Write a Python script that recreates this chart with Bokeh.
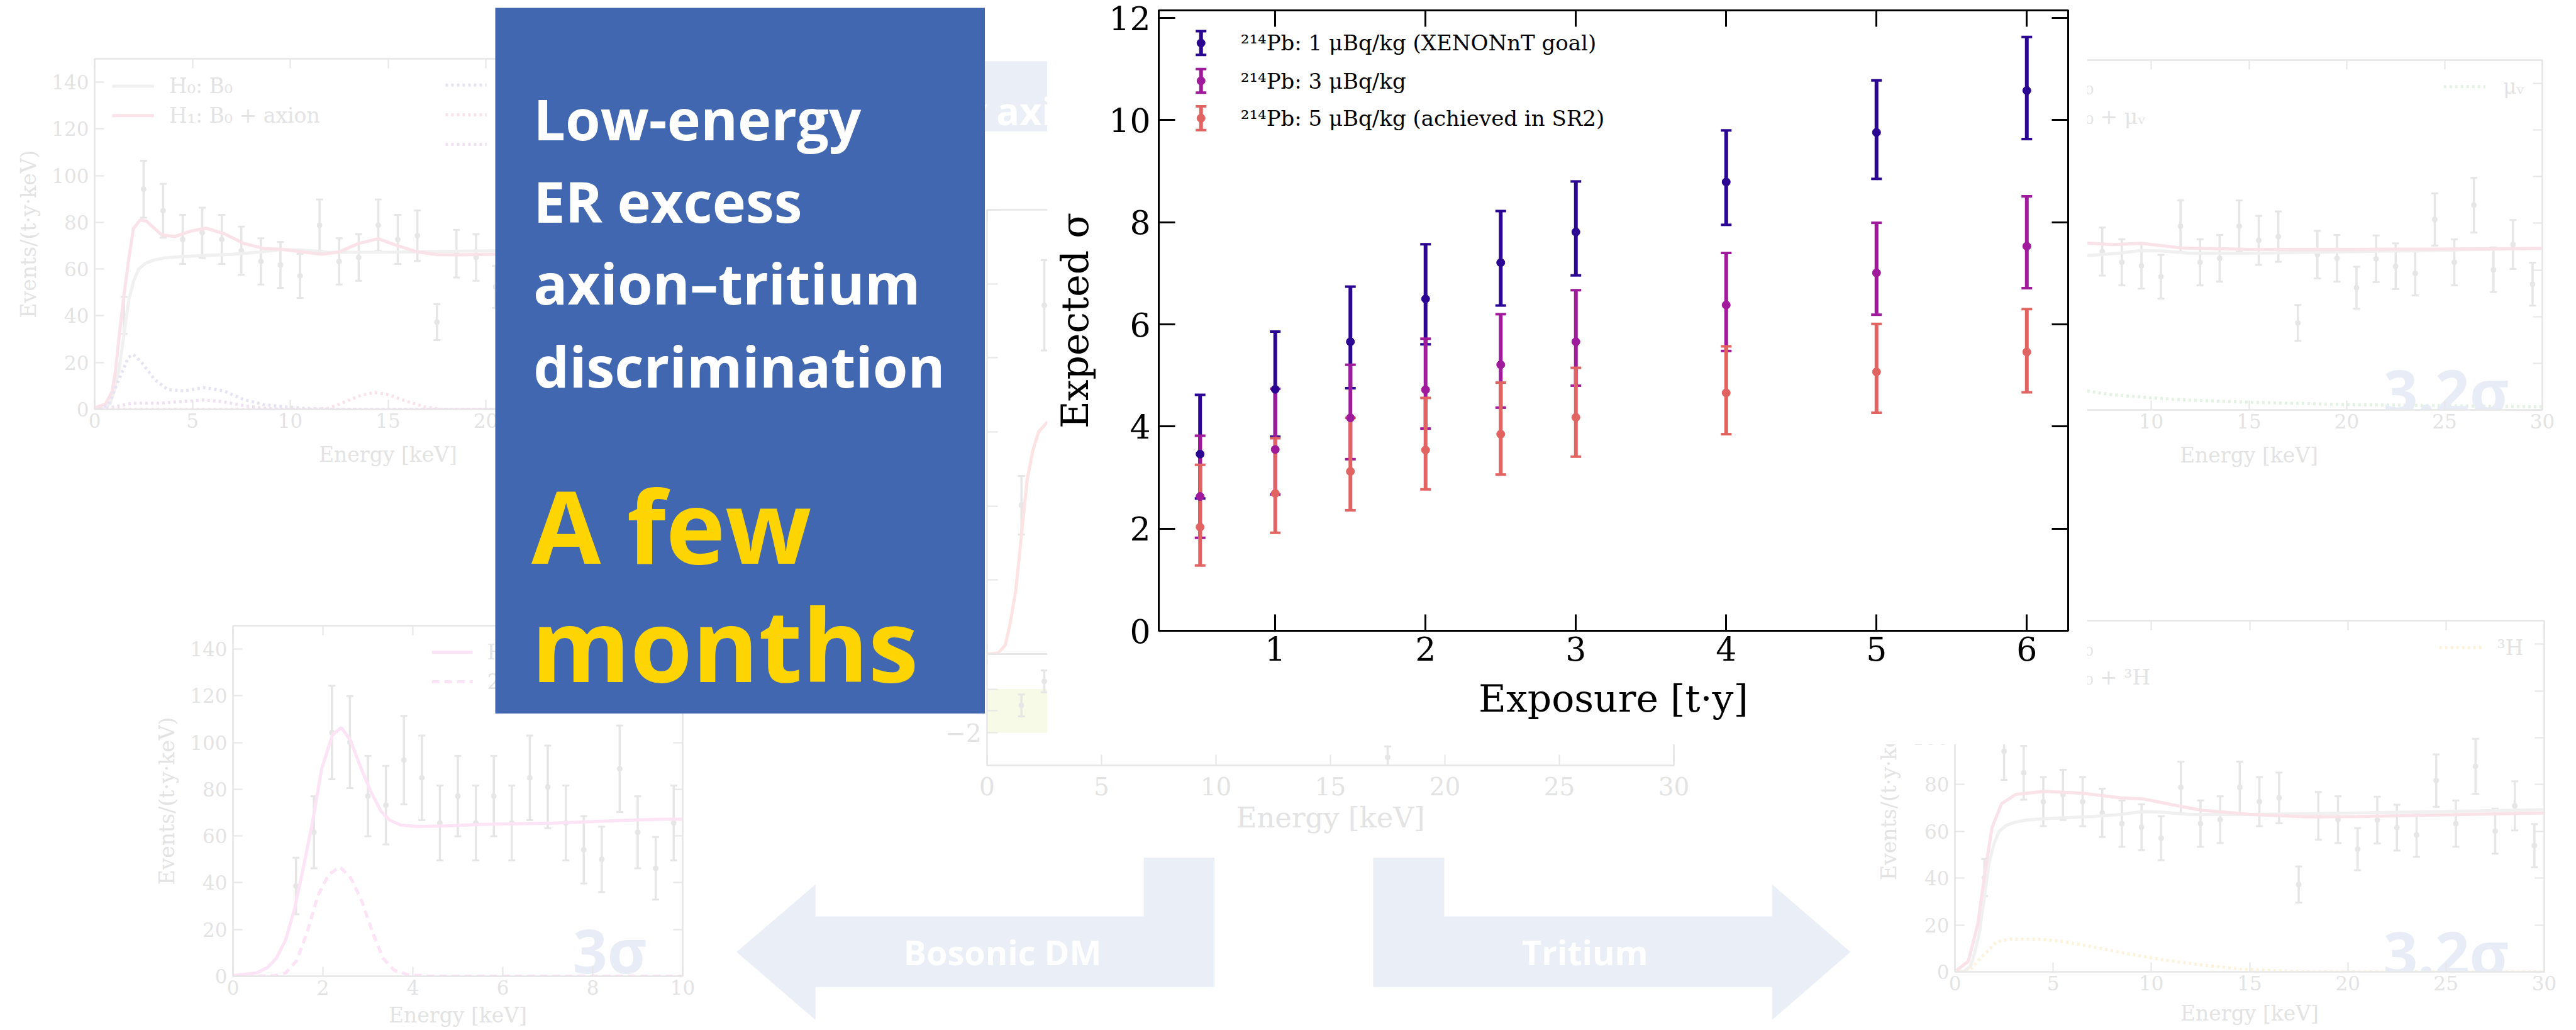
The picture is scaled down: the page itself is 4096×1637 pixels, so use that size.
import numpy as np
from bokeh.plotting import figure
from bokeh.models import Range1d, FixedTicker, LinearAxis, Column, Div
from bokeh.core.properties import value
from bokeh.embed import file_html
from bokeh.resources import INLINE

# ---------------------------------------------------------------- page size
W, H = 4096, 1637
S = W / 4998.0          # slide units -> page pixels


def px(v):
    return v * S


# ---------------------------------------------------------------- main chart data
exposure = [0.5, 1, 1.5, 2, 2.5, 3, 4, 5, 6]

sig_1 = [3.46, 4.73, 5.66, 6.50, 7.21, 7.81, 8.79, 9.76, 10.58]
sig_1_lo = [2.59, 3.80, 4.75, 5.61, 6.37, 6.96, 7.95, 8.85, 9.63]
sig_1_hi = [4.62, 5.86, 6.74, 7.57, 8.22, 8.80, 9.80, 10.78, 11.63]

sig_3 = [2.63, 3.55, 4.17, 4.72, 5.21, 5.66, 6.38, 7.01, 7.53]
sig_3_lo = [1.82, 2.67, 3.36, 3.96, 4.37, 4.80, 5.48, 6.19, 6.71]
sig_3_hi = [3.82, 4.74, 5.21, 5.72, 6.20, 6.67, 7.40, 7.99, 8.51]

sig_5 = [2.03, 2.69, 3.12, 3.54, 3.85, 4.18, 4.66, 5.07, 5.46]
sig_5_lo = [1.28, 1.92, 2.36, 2.77, 3.06, 3.41, 3.85, 4.27, 4.67]
sig_5_hi = [3.25, 3.77, 4.17, 4.56, 4.86, 5.15, 5.57, 6.01, 6.30]

series_labels = [
    "²¹⁴Pb: 1 μBq/kg (XENONnT goal)",
    "²¹⁴Pb: 3 μBq/kg",
    "²¹⁴Pb: 5 μBq/kg (achieved in SR2)",
]
series_colors = ["#2a0692", "#a01b9b", "#e16462"]

x_ticks_main = [1, 2, 3, 4, 5, 6]
y_ticks_main = [0, 2, 4, 6, 8, 10, 12]

# ---------------------------------------------------------------- spectrum data (1 keV bins)
spec_x = [1.5, 2.5, 3.5, 4.5, 5.5, 6.5, 7.5, 8.5, 9.5, 10.5, 11.5, 12.5, 13.5, 14.5,
          15.5, 16.5, 17.5, 18.5, 19.5, 20.5, 21.5, 22.5, 23.5, 24.5, 25.5, 26.5,
          27.5, 28.5, 29.5]
spec_y = [40.2, 94.2, 85.0, 72.7, 75.6, 72.7, 67.9, 63.3, 61.8, 57.1, 78.8, 63.3, 65.0,
          78.8, 72.7, 74.3, 37.3, 66.6, 65.0, 52.4, 64.8, 61.6, 58.5, 81.7, 63.3, 87.8,
          60.1, 70.9, 53.9]
spec_err = [7.9, 12.2, 11.5, 10.5, 10.7, 10.5, 10.3, 9.9, 9.8, 9.4, 11.0, 9.9, 10.0,
            11.0, 10.5, 10.8, 7.7, 10.2, 10.0, 9.0, 10.0, 9.8, 9.4, 11.2, 9.9, 11.7,
            9.6, 10.5, 9.2]
spec_resid = [0.5, 2.7, 1.8, 0.7, 0.9, 0.6, 0.1, -0.4, -0.7, -1.2, 1.0, -0.4, -0.2,
              1.1, 0.5, 0.6, -4.25, -0.1, -0.3, -1.7, -0.3, -0.7, -1.0, 1.2, -0.5,
              1.7, -0.9, 0.2, -1.7]
resid_band = 2.0

# background model B0
b0_x = [0, 0.5, 0.8, 1.0, 1.25, 1.5, 1.75, 2.0, 2.25, 2.6, 3.0, 3.6, 4.5, 5.5, 7, 8.5,
        9.5, 10.5, 12, 15, 20, 25, 30]
b0_y = [0, 0.3, 2.5, 8, 17, 32, 47, 55, 60, 62.5, 63.8, 64.8, 65.4, 65.8, 66.3, 67.3,
        68.4, 68.2, 67.2, 67.2, 67.8, 68.5, 69.3]

# B0 + solar axion and its components
ax_x = [0, 0.55, 0.89, 1.06, 1.26, 1.48, 1.73, 1.98, 2.32, 2.66, 3.42, 4.09, 4.93, 5.69,
        6.61, 7.62, 8.63, 9.63, 10.64, 11.65, 12.49, 13.5, 14.51, 15.52, 16.52, 17.53,
        18.71, 20.47, 25, 30]
ax_y = [0.6, 2.2, 7.5, 15.9, 31.8, 47.6, 63.5, 77.3, 81.0, 80.5, 74.7, 73.9, 76.3, 77.5,
        75.2, 71.0, 68.9, 68.4, 67.3, 66.4, 67.3, 71.0, 73.0, 69.9, 67.3, 66.2, 66.1,
        66.4, 67.0, 67.6]
abc_x = [0.22, 0.72, 1.23, 1.73, 1.98, 2.4, 3.07, 3.74, 4.58, 5.59, 6.6, 7.61, 8.61,
         9.63, 10.6, 12, 30]
abc_y = [0, 2.1, 12.7, 22.3, 23.5, 20.1, 12.7, 8.4, 7.9, 9.3, 7.9, 4.2, 2.1, 1.1, 0.5, 0, 0]
fe_x = [0, 11.1, 11.98, 12.8, 13.66, 14.33, 15.0, 15.85, 16.86, 17.7, 30]
fe_y = [0, 0, 0.5, 3.2, 6.1, 7.2, 6.3, 3.7, 1.1, 0, 0]
prim_x = [0.3, 1.06, 1.9, 3.24, 4.58, 5.59, 6.6, 7.61, 8.63, 9.6, 30]
prim_y = [0, 1.1, 2.6, 2.6, 3.4, 4.0, 3.2, 1.6, 0.5, 0, 0]

# B0 + neutrino magnetic moment
mu_x = [0, 0.8, 1.2, 1.6, 2.0, 2.5, 3.5, 5, 6.5, 8, 9.5, 11.5, 15, 20, 25, 30]
mu_y = [0, 6, 20, 38, 55, 64, 69, 71, 71.7, 70.9, 71.4, 69.5, 68.8, 68.8, 69.0, 69.3]
munu_x = [0.8, 1.5, 2.5, 4, 5, 6.5, 8, 10, 12, 15, 20, 25, 30]
munu_y = [3, 12, 15, 12, 10, 8.4, 6.5, 5.2, 4.2, 3.3, 2.3, 1.8, 1.3]

# B0 + tritium
tr_x = [0, 0.68, 1.16, 1.53, 1.89, 2.37, 3.1, 4.55, 6.49, 8.43, 9.64, 11.1, 12.55,
        14.98, 17.9, 20.5, 25.2, 30]
tr_y = [0, 4.5, 20.2, 42.6, 61.7, 71.8, 75.8, 77.1, 76.3, 74.3, 73.8, 71.3, 69.0, 67.3,
        66.2, 66.3, 67.1, 67.9]
h3_x = [0, 0.68, 1.41, 2.14, 2.86, 4.1, 5.3, 7.0, 8.7, 10.6, 12.6, 14.5, 16.7, 17.9, 30]
h3_y = [0, 0, 6.7, 12.9, 14.0, 14.0, 13.2, 10.7, 7.9, 5.1, 2.9, 1.2, 0.3, 0, 0]

# low-energy peak search (0.4 keV bins)
pk_x = [1.4, 1.8, 2.2, 2.6, 3.0, 3.4, 3.8, 4.2, 4.6, 5.0, 5.4, 5.8, 6.2, 6.6, 7.0, 7.4,
        7.8, 8.2, 8.6, 9.0, 9.4, 9.8]
pk_y = [38.6, 61.6, 104.3, 100.2, 77.1, 73.2, 92.5, 84.9, 65.6, 77.1, 65.6, 77.1, 65.6,
        84.9, 81.0, 65.6, 54.1, 50.0, 88.8, 61.6, 46.2, 65.6]
pk_err = [12.1, 15.4, 20.0, 19.7, 17.2, 16.8, 18.9, 18.1, 16.0, 17.2, 16.0, 17.2, 16.0,
          18.1, 17.7, 16.0, 14.4, 14.0, 18.5, 15.4, 13.4, 16.0]
pkfit_x = [0, 0.52, 0.76, 0.96, 1.17, 1.37, 1.57, 1.77, 1.97, 2.21, 2.41, 2.61, 2.81,
           3.05, 3.29, 3.49, 3.73, 4.06, 4.7, 5.5, 7.11, 8.72, 9.52, 10]
pkfit_y = [0.3, 1.4, 3.6, 7.6, 15.5, 29.0, 47.0, 66.1, 88.6, 103.2, 106.4, 101.0, 90.9,
           79.6, 70.6, 66.7, 64.7, 64.1, 64.3, 65.0, 65.5, 66.7, 67.2, 67.2]
peak_x = [0, 0.92, 1.17, 1.41, 1.65, 1.89, 2.13, 2.38, 2.62, 2.86, 3.1, 3.34, 3.58, 3.9,
          4.38, 10]
peak_y = [0, 0.2, 1.4, 6.5, 18.9, 34.6, 43.6, 46.8, 42.0, 32.4, 18.9, 7.6, 2.6, 0.6, 0, 0]

# ---------------------------------------------------------------- styling
SERIF = "DejaVu Serif"
SANS = "Open Sans"
FAINT = "#e6e6e6"
FAINT_TXT = "#e3e3e3"
BAR_GRAY = "#e6e6e6"
B0_GRAY = "#f0f0f0"
PINK = "#fae2e9"
MAGENTA_PINK = "#fce3f6"
LAVENDER = "#e6e4f3"
LILAC = "#efe1f1"
MINT = "#e3f2e3"
CREAM = "#fdf2da"
SALMON_PALE = "#fde3e3"
BAND = "#f6fae6"
SIGMA_TXT = "#e7ecf6"
ARROW = "#e9eef7"
BOX_BLUE = "#4167b1"
GOLD = "#fed402"

PAD_L, PAD_T = 260, 90     # generous borders so every frame lands where it is placed

children = []


def place(p, left, top):
    p.styles = {"position": "absolute", "left": f"{left:.1f}px", "top": f"{top:.1f}px"}


def framed(frame, xr, yr, pad_r=40, pad_b=130, pad_t=PAD_T, **kw):
    """Figure whose plotting frame covers the given slide rectangle."""
    fx0, fy0, fx1, fy1 = frame
    p = figure(frame_width=int(round(px(fx1 - fx0))), frame_height=int(round(px(fy1 - fy0))),
               x_range=Range1d(*xr), y_range=Range1d(*yr),
               min_border_left=PAD_L, min_border_top=pad_t,
               min_border_right=pad_r, min_border_bottom=pad_b,
               output_backend="svg", toolbar_location=None, **kw)
    p.grid.visible = False
    place(p, px(fx0) - PAD_L, px(fy0) - pad_t)
    return p


def style_axis(ax, color, width, tick_in, font, fs, standoff, show_labels=True):
    ax.axis_line_color = color
    ax.axis_line_width = width
    ax.major_tick_line_color = color
    ax.major_tick_line_width = width
    ax.major_tick_in = tick_in
    ax.major_tick_out = 0
    ax.minor_tick_line_color = None
    ax.major_label_text_font = font
    ax.major_label_text_font_size = fs if show_labels else "0px"
    ax.major_label_text_color = color if show_labels else None
    ax.major_label_standoff = standoff
    ax.axis_label_text_font = font
    ax.axis_label_text_font_style = "normal"


def faded_panel(frame, xr, yr, xticks, yticks, pad_b=130, xlab=None, ylab=None,
                xlabels=True, ylabels=True, yover=None, ylab_standoff=14, xlab_standoff=20,
                tick_fs="31px", lab_fs="33px", tick_in=15, xtick_standoff=6):
    p = framed(frame, xr, yr, pad_r=40, pad_b=pad_b,
               background_fill_alpha=0, border_fill_alpha=0,
               outline_line_color=FAINT, outline_line_width=2)
    xa, ya = p.xaxis[0], p.yaxis[0]
    xa.ticker = FixedTicker(ticks=xticks)
    ya.ticker = FixedTicker(ticks=yticks)
    style_axis(xa, FAINT, 2, tick_in, SERIF, tick_fs, xtick_standoff, xlabels)
    style_axis(ya, FAINT, 2, tick_in, SERIF, tick_fs, 9, ylabels)
    xa.major_label_text_color = FAINT_TXT if xlabels else None
    ya.major_label_text_color = FAINT_TXT if ylabels else None
    if yover:
        ya.major_label_overrides = yover
    if xlab:
        xa.axis_label = xlab
        xa.axis_label_text_font_size = lab_fs
        xa.axis_label_text_color = FAINT_TXT
        xa.axis_label_standoff = xlab_standoff
    if ylab:
        ya.axis_label = ylab
        ya.axis_label_text_font_size = lab_fs
        ya.axis_label_text_color = FAINT_TXT
        ya.axis_label_standoff = ylab_standoff
    top_ax = LinearAxis(ticker=FixedTicker(ticks=xticks))
    right_ax = LinearAxis(ticker=FixedTicker(ticks=yticks))
    style_axis(top_ax, FAINT, 2, tick_in, SERIF, tick_fs, 0, False)
    style_axis(right_ax, FAINT, 2, tick_in, SERIF, tick_fs, 0, False)
    p.add_layout(top_ax, "above")
    p.add_layout(right_ax, "right")
    return p


def errorbars(p, x, lo, hi, color, bar_w, cap_len, cap_w):
    p.segment(x0=x, y0=lo, x1=x, y1=hi, line_color=color, line_width=bar_w)
    p.scatter(x=x, y=lo, marker="dash", size=cap_len, line_color=color, line_width=cap_w)
    p.scatter(x=x, y=hi, marker="dash", size=cap_len, line_color=color, line_width=cap_w)


def faded_points(p, x, y, err):
    y = np.asarray(y, float)
    err = np.asarray(err, float)
    errorbars(p, x, y - err, y + err, BAR_GRAY, 3.5, 11, 3)
    p.scatter(x=x, y=y, size=8, color=BAR_GRAY)


def rel(p, fx, fy):
    xr, yr = p.x_range, p.y_range
    return (xr.start + fx * (xr.end - xr.start), yr.end - fy * (yr.end - yr.start))


def legend_rows(p, entries, x0f, x1f, textf, rowsf, font_size="33px"):
    for (label, color, dash), rf in zip(entries, rowsf):
        xa, ya = rel(p, x0f, rf)
        xb, _ = rel(p, x1f, rf)
        xt, _ = rel(p, textf, rf)
        p.line(x=[xa, xb], y=[ya, ya], line_color=color, line_width=5, line_dash=dash)
        p.text(x=[xt], y=[ya], text=[label], text_font=value(SERIF), text_font_size=font_size,
               text_color=FAINT_TXT, text_baseline="middle", text_align="left")


def sigma_text(p, label, fx, fy):
    x, y = rel(p, fx, fy)
    p.text(x=[x], y=[y], text=[label], text_font=value(SANS), text_font_style="bold",
           text_font_size="96px", text_color=SIGMA_TXT, text_align="right",
           text_baseline="alphabetic")


# ---------------------------------------------------------------- backdrop shapes
back = framed((1300, 100, 3700, 1998), (1300, 3700), (1998, 100), pad_r=0, pad_b=0, pad_t=40,
              x_axis_type=None, y_axis_type=None, outline_line_color=None,
              background_fill_color="white", border_fill_alpha=0)
back.quad(left=[1300], right=[2600], top=[118], bottom=[254], color=ARROW, line_color=None)
back.text(x=[1915], y=[214], text=["Low-energy"], text_font=value(SANS), text_font_style="bold",
          text_font_size="61px", text_color="white", text_align="right", text_baseline="alphabetic")
back.text(x=[1933], y=[214], text=["axion"], text_font=value(SANS), text_font_style="bold",
          text_font_size="61px", text_color="white", text_align="left", text_baseline="alphabetic")
back.patch(x=[1429, 1582, 1582, 2219, 2219, 2356, 2356, 1582, 1582],
           y=[1846, 1715, 1777, 1777, 1663, 1663, 1914, 1914, 1978],
           color=ARROW, line_color=None)
back.patch(x=[3590, 3438, 3438, 2802, 2802, 2664, 2664, 3438, 3438],
           y=[1846, 1715, 1777, 1777, 1663, 1663, 1914, 1914, 1978],
           color=ARROW, line_color=None)
back.text(x=[1945, 3075], y=[1846, 1846], text=["Bosonic DM", "Tritium"], text_font=value(SANS),
          text_font_style="bold", text_font_size="54px", text_color="white",
          text_align="center", text_baseline="middle")
children.append(back)

EN_TICKS = [0, 5, 10, 15, 20, 25, 30]
EV_TICKS = [0, 20, 40, 60, 80, 100, 120, 140]
EV_LABEL = "Events/(t·y·keV)"
EN_LABEL = "Energy [keV]"

# ---------------------------------------------------------------- top-left: axion
tl = faded_panel((183, 114, 1322, 794), (0, 30), (0, 150), EN_TICKS, EV_TICKS,
                 xlab=EN_LABEL, ylab=EV_LABEL)
faded_points(tl, spec_x, spec_y, spec_err)
tl.line(b0_x, b0_y, line_color=B0_GRAY, line_width=5)
tl.line(ax_x, ax_y, line_color=PINK, line_width=5)
tl.line(abc_x, abc_y, line_color=LAVENDER, line_width=5, line_dash="4 5")
tl.line(fe_x, fe_y, line_color=PINK, line_width=5, line_dash="4 5")
tl.line(prim_x, prim_y, line_color=LILAC, line_width=5, line_dash="4 5")
legend_rows(tl, [("H₀: B₀", B0_GRAY, "solid"), ("H₁: B₀ + axion", PINK, "solid")],
            0.030, 0.101, 0.127, [0.078, 0.162])
legend_rows(tl, [("ABC", LAVENDER, "4 5"), ("⁵⁷Fe", PINK, "4 5"), ("Primakoff", LILAC, "4 5")],
            0.598, 0.668, 0.695, [0.075, 0.160, 0.244])
children.append(tl)

# ---------------------------------------------------------------- top-right: magnetic moment
tr = faded_panel((3794, 116, 4933, 794), (0, 30), (0, 150), EN_TICKS, EV_TICKS,
                 xlab=EN_LABEL, ylab=EV_LABEL)
faded_points(tr, spec_x, spec_y, spec_err)
tr.line(b0_x, b0_y, line_color=B0_GRAY, line_width=5)
tr.line(mu_x, mu_y, line_color=PINK, line_width=5)
tr.line(munu_x, munu_y, line_color=MINT, line_width=5, line_dash="4 5")
legend_rows(tr, [("H₀: B₀", B0_GRAY, "solid"), ("H₁: B₀ + μᵥ", PINK, "solid")],
            0.030, 0.101, 0.127, [0.078, 0.162])
legend_rows(tr, [("μᵥ", MINT, "4 5")], 0.832, 0.903, 0.933, [0.076])
sigma_text(tr, "3.2σ", 0.943, 0.945)
children.append(tr)

# ---------------------------------------------------------------- bottom-left: peak search
bl_p = faded_panel((451, 1213, 1324, 1893), (0, 10), (0, 150), [0, 2, 4, 6, 8, 10], EV_TICKS,
                   xlab=EN_LABEL, ylab=EV_LABEL, xlab_standoff=10)
faded_points(bl_p, pk_x, pk_y, pk_err)
bl_p.line(pkfit_x, pkfit_y, line_color=MAGENTA_PINK, line_width=5)
bl_p.line(peak_x, peak_y, line_color=MAGENTA_PINK, line_width=5, line_dash="12 8")
legend_rows(bl_p, [("H₁: B₀ + peak", MAGENTA_PINK, "solid"),
                   ("2.3 keV peak", MAGENTA_PINK, "12 8")],
            0.442, 0.533, 0.565, [0.076, 0.160])
sigma_text(bl_p, "3σ", 0.92, 0.925)
children.append(bl_p)

# ---------------------------------------------------------------- bottom-right: tritium
br_p = faded_panel((3792, 1203, 4935, 1884), (0, 30), (0, 150), EN_TICKS, EV_TICKS,
                   xlab=EN_LABEL, ylab=EV_LABEL, xlab_standoff=14)
faded_points(br_p, spec_x, spec_y, spec_err)
br_p.line(b0_x, b0_y, line_color=B0_GRAY, line_width=5)
br_p.line(tr_x, tr_y, line_color=PINK, line_width=5)
br_p.line(h3_x, h3_y, line_color=CREAM, line_width=5, line_dash="4 5")
legend_rows(br_p, [("H₀: B₀", B0_GRAY, "solid"), ("H₁: B₀ + ³H", PINK, "solid")],
            0.030, 0.101, 0.127, [0.078, 0.162])
legend_rows(br_p, [("³H", CREAM, "4 5")], 0.822, 0.895, 0.920, [0.077])
sigma_text(br_p, "3.2σ", 0.94, 0.944)
children.append(br_p)

# ---------------------------------------------------------------- middle: fit + residuals
tm_up = faded_panel((1914, 406, 3246, 1268), (0, 30), (0, 120), EN_TICKS,
                    [0, 20, 40, 60, 80, 100, 120], pad_b=20, xlabels=False, ylabels=False,
                    tick_fs="39px", lab_fs="45px", tick_in=17)
faded_points(tm_up, spec_x, spec_y, spec_err)
tm_up.line(b0_x, b0_y, line_color=SALMON_PALE, line_width=5)
children.append(tm_up)

tm_lo = faded_panel((1914, 1268, 3246, 1484), (0, 30), (-5, 5.2), EN_TICKS, [-2, 0, 2],
                    pad_b=140, xlab=EN_LABEL, yover={-2: "−2", 0: "", 2: ""},
                    tick_fs="39px", lab_fs="45px", tick_in=17, xtick_standoff=18,
                    xlab_standoff=6)
tm_lo.quad(left=[0], right=[30], bottom=[-resid_band], top=[resid_band], color=BAND,
           line_color=None)
resid = np.asarray(spec_resid, float)
errorbars(tm_lo, spec_x, resid - 1, resid + 1, BAR_GRAY, 3.5, 11, 3)
tm_lo.scatter(x=spec_x, y=resid, size=8, color=BAR_GRAY)
children.append(tm_lo)

# ---------------------------------------------------------------- white card behind the main chart
wl, wt, wr, wb = 2025, 0, 4043, 1438
card = Div(text="", width=int(round(px(wr - wl))), height=int(round(px(wb - wt))),
           styles={"position": "absolute", "left": f"{px(wl):.1f}px", "top": f"{px(wt):.1f}px",
                   "background-color": "white"})
children.append(card)

# ---------------------------------------------------------------- main chart
XR = (0.225, 6.275)
YR = (0.0, 12.15)
p = framed((2247, 20, 4011, 1223), XR, YR, pad_r=60, pad_b=220,
           background_fill_color="white", border_fill_alpha=0,
           outline_line_color="black", outline_line_width=3)
xa, ya = p.xaxis[0], p.yaxis[0]
xa.ticker = FixedTicker(ticks=x_ticks_main)
ya.ticker = FixedTicker(ticks=y_ticks_main)
style_axis(xa, "black", 3, 26, SERIF, "52px", 9)
style_axis(ya, "black", 3, 26, SERIF, "52px", 13)
xa.major_label_text_color = "black"
ya.major_label_text_color = "black"
xa.axis_label = "Exposure [t·y]"
ya.axis_label = "Expected σ"
for ax in (xa, ya):
    ax.axis_label_text_font_size = "60px"
    ax.axis_label_text_color = "black"
xa.axis_label_standoff = 22
ya.axis_label_standoff = 16
for loc, ticks in (("above", x_ticks_main), ("right", y_ticks_main)):
    extra = LinearAxis(ticker=FixedTicker(ticks=ticks))
    style_axis(extra, "black", 3, 26, SERIF, "52px", 0, False)
    p.add_layout(extra, loc)

BAR_W, CAP_LEN, CAP_W, DOT = 6, 17, 4, 13
groups = [(sig_1, sig_1_lo, sig_1_hi), (sig_3, sig_3_lo, sig_3_hi), (sig_5, sig_5_lo, sig_5_hi)]
for (mid, lo, hi), color in zip(groups, series_colors):
    errorbars(p, exposure, lo, hi, color, BAR_W, CAP_LEN, CAP_W)

# legend: errorbar handle + label
xspan = XR[1] - XR[0]
yspan = YR[1] - YR[0]
leg_x = XR[0] + 0.0465 * xspan
leg_tx = XR[0] + 0.0901 * xspan
leg_half = 0.0191 * yspan
leg_rows = [YR[1] - f * yspan for f in (0.0526, 0.1136, 0.1738)]
for row, color, label in zip(leg_rows, series_colors, series_labels):
    errorbars(p, [leg_x], [row - leg_half], [row + leg_half], color, BAR_W, CAP_LEN, CAP_W)
    p.scatter(x=[leg_x], y=[row], size=DOT, color=color)
    p.text(x=[leg_tx], y=[row], text=[label], text_font=value(SERIF), text_font_size="34px",
           text_color="black", text_baseline="middle", text_align="left")

for (mid, lo, hi), color in zip(groups, series_colors):
    p.scatter(x=exposure, y=mid, size=DOT, color=color)
children.append(p)

# ---------------------------------------------------------------- headline box
box = framed((960, 14, 1910, 1383), (0, 950), (1369, 0), pad_r=0, pad_b=0,
             x_axis_type=None, y_axis_type=None, outline_line_color=None,
             background_fill_color=BOX_BLUE, border_fill_alpha=0)
box.text(x=[74, 74, 74, 74], y=[214, 374, 532, 694],
         text=["Low-energy", "ER excess", "axion–tritium", "discrimination"],
         text_font=value(SANS), text_font_style="bold", text_font_size="90px",
         text_color="white", text_align="left", text_baseline="alphabetic")
box.text(x=[70, 70], y=[1002, 1232], text=["A few", "months"],
         text_font=value(SANS), text_font_style="bold", text_font_size="160px",
         text_color=GOLD, text_align="left", text_baseline="alphabetic")
children.append(box)

root = Column(children=children, width=W, height=H,
              styles={"position": "relative", "width": f"{W}px", "height": f"{H}px",
                      "overflow": "hidden"})

open("out.html", "w").write(file_html(root, INLINE))
